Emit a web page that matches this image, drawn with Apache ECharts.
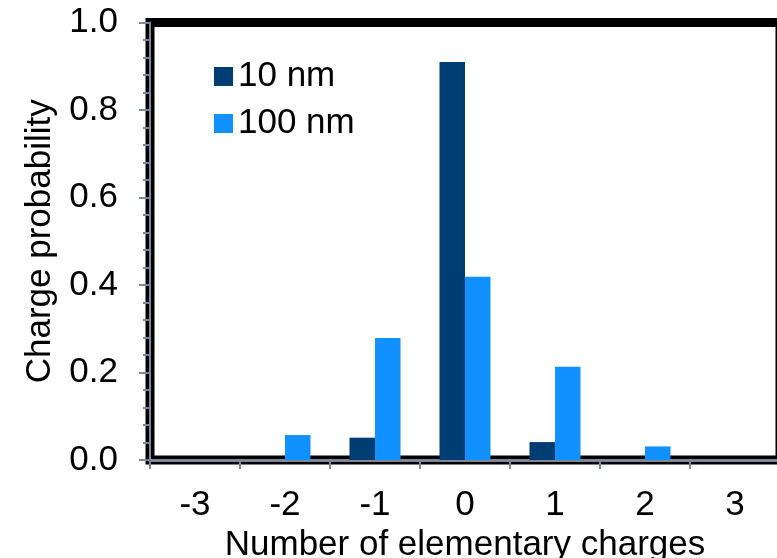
<!DOCTYPE html>
<html>
<head>
<meta charset="utf-8">
<script src="https://cdn.jsdelivr.net/npm/echarts@6/dist/echarts.min.js"></script>
<style>html,body{margin:0;padding:0;background:#fff;}#c{width:777px;height:558px;}</style>
</head>
<body>
<div id="c"></div>
<script>
const categories = ['-3', '-2', '-1', '0', '1', '2', '3'];
const series10nm = [0, 0, 0.051, 0.91, 0.041, 0, 0];
const series100nm = [0, 0.057, 0.279, 0.419, 0.213, 0.031, 0];
const seriesNames = ['10 nm', '100 nm'];
const yTicks = { min: 0, max: 1, interval: 0.2 };

const FONT = '"Liberation Sans", Arial, sans-serif';
const FS = 35;
const AXIS_GRAY = '#7d879c';
const chart = echarts.init(document.getElementById('c'), null, { renderer: 'canvas' });
chart.setOption({
  animation: false,
  backgroundColor: '#fff',
  textStyle: { fontFamily: FONT },
  grid: {
    left: 150, top: 22.5, width: 630, height: 437.5,
    outerBoundsMode: 'none', containLabel: false,
    show: true, borderColor: '#000', borderWidth: 9, backgroundColor: 'transparent'
  },
  legend: {
    orient: 'vertical', left: 209, top: 54,
    itemWidth: 19, itemHeight: 19, itemGap: 12,
    icon: 'rect',
    textStyle: { fontSize: FS, color: '#000', fontFamily: FONT, lineHeight: 35 },
    data: seriesNames
  },
  xAxis: {
    type: 'category', data: categories,
    axisLine: { show: true, lineStyle: { color: AXIS_GRAY, width: 3 } },
    axisTick: { show: true, length: 9, interval: 0, lineStyle: { color: AXIS_GRAY, width: 2 } },
    axisLabel: { fontSize: FS, color: '#000', margin: 28, fontFamily: FONT, interval: 0 },
    name: 'Number of elementary charges', nameLocation: 'middle', nameGap: 64,
    nameTextStyle: { fontSize: FS, color: '#000', fontFamily: FONT }
  },
  yAxis: {
    type: 'value', min: yTicks.min, max: yTicks.max, interval: yTicks.interval,
    axisLine: { show: true, lineStyle: { color: AXIS_GRAY, width: 2 } },
    axisTick: { show: true, length: 11, lineStyle: { color: AXIS_GRAY, width: 2 } },
    minorTick: { show: true, splitNumber: 5, length: 7, lineStyle: { color: AXIS_GRAY, width: 2 } },
    splitLine: { show: false },
    axisLabel: { fontSize: FS, color: '#000', margin: 32, fontFamily: FONT,
      formatter: v => v.toFixed(1) },
    name: 'Charge probability', nameLocation: 'middle', nameGap: 92,
    nameTextStyle: { fontSize: FS, color: '#000', fontFamily: FONT }
  },
  series: [
    { name: seriesNames[0], type: 'bar', data: series10nm, barWidth: 25.5, barGap: '0%',
      itemStyle: { color: '#003d73' } },
    { name: seriesNames[1], type: 'bar', data: series100nm, barWidth: 25.5, barGap: '0%',
      itemStyle: { color: '#1190ff' } }
  ]
});
</script>
</body>
</html>
